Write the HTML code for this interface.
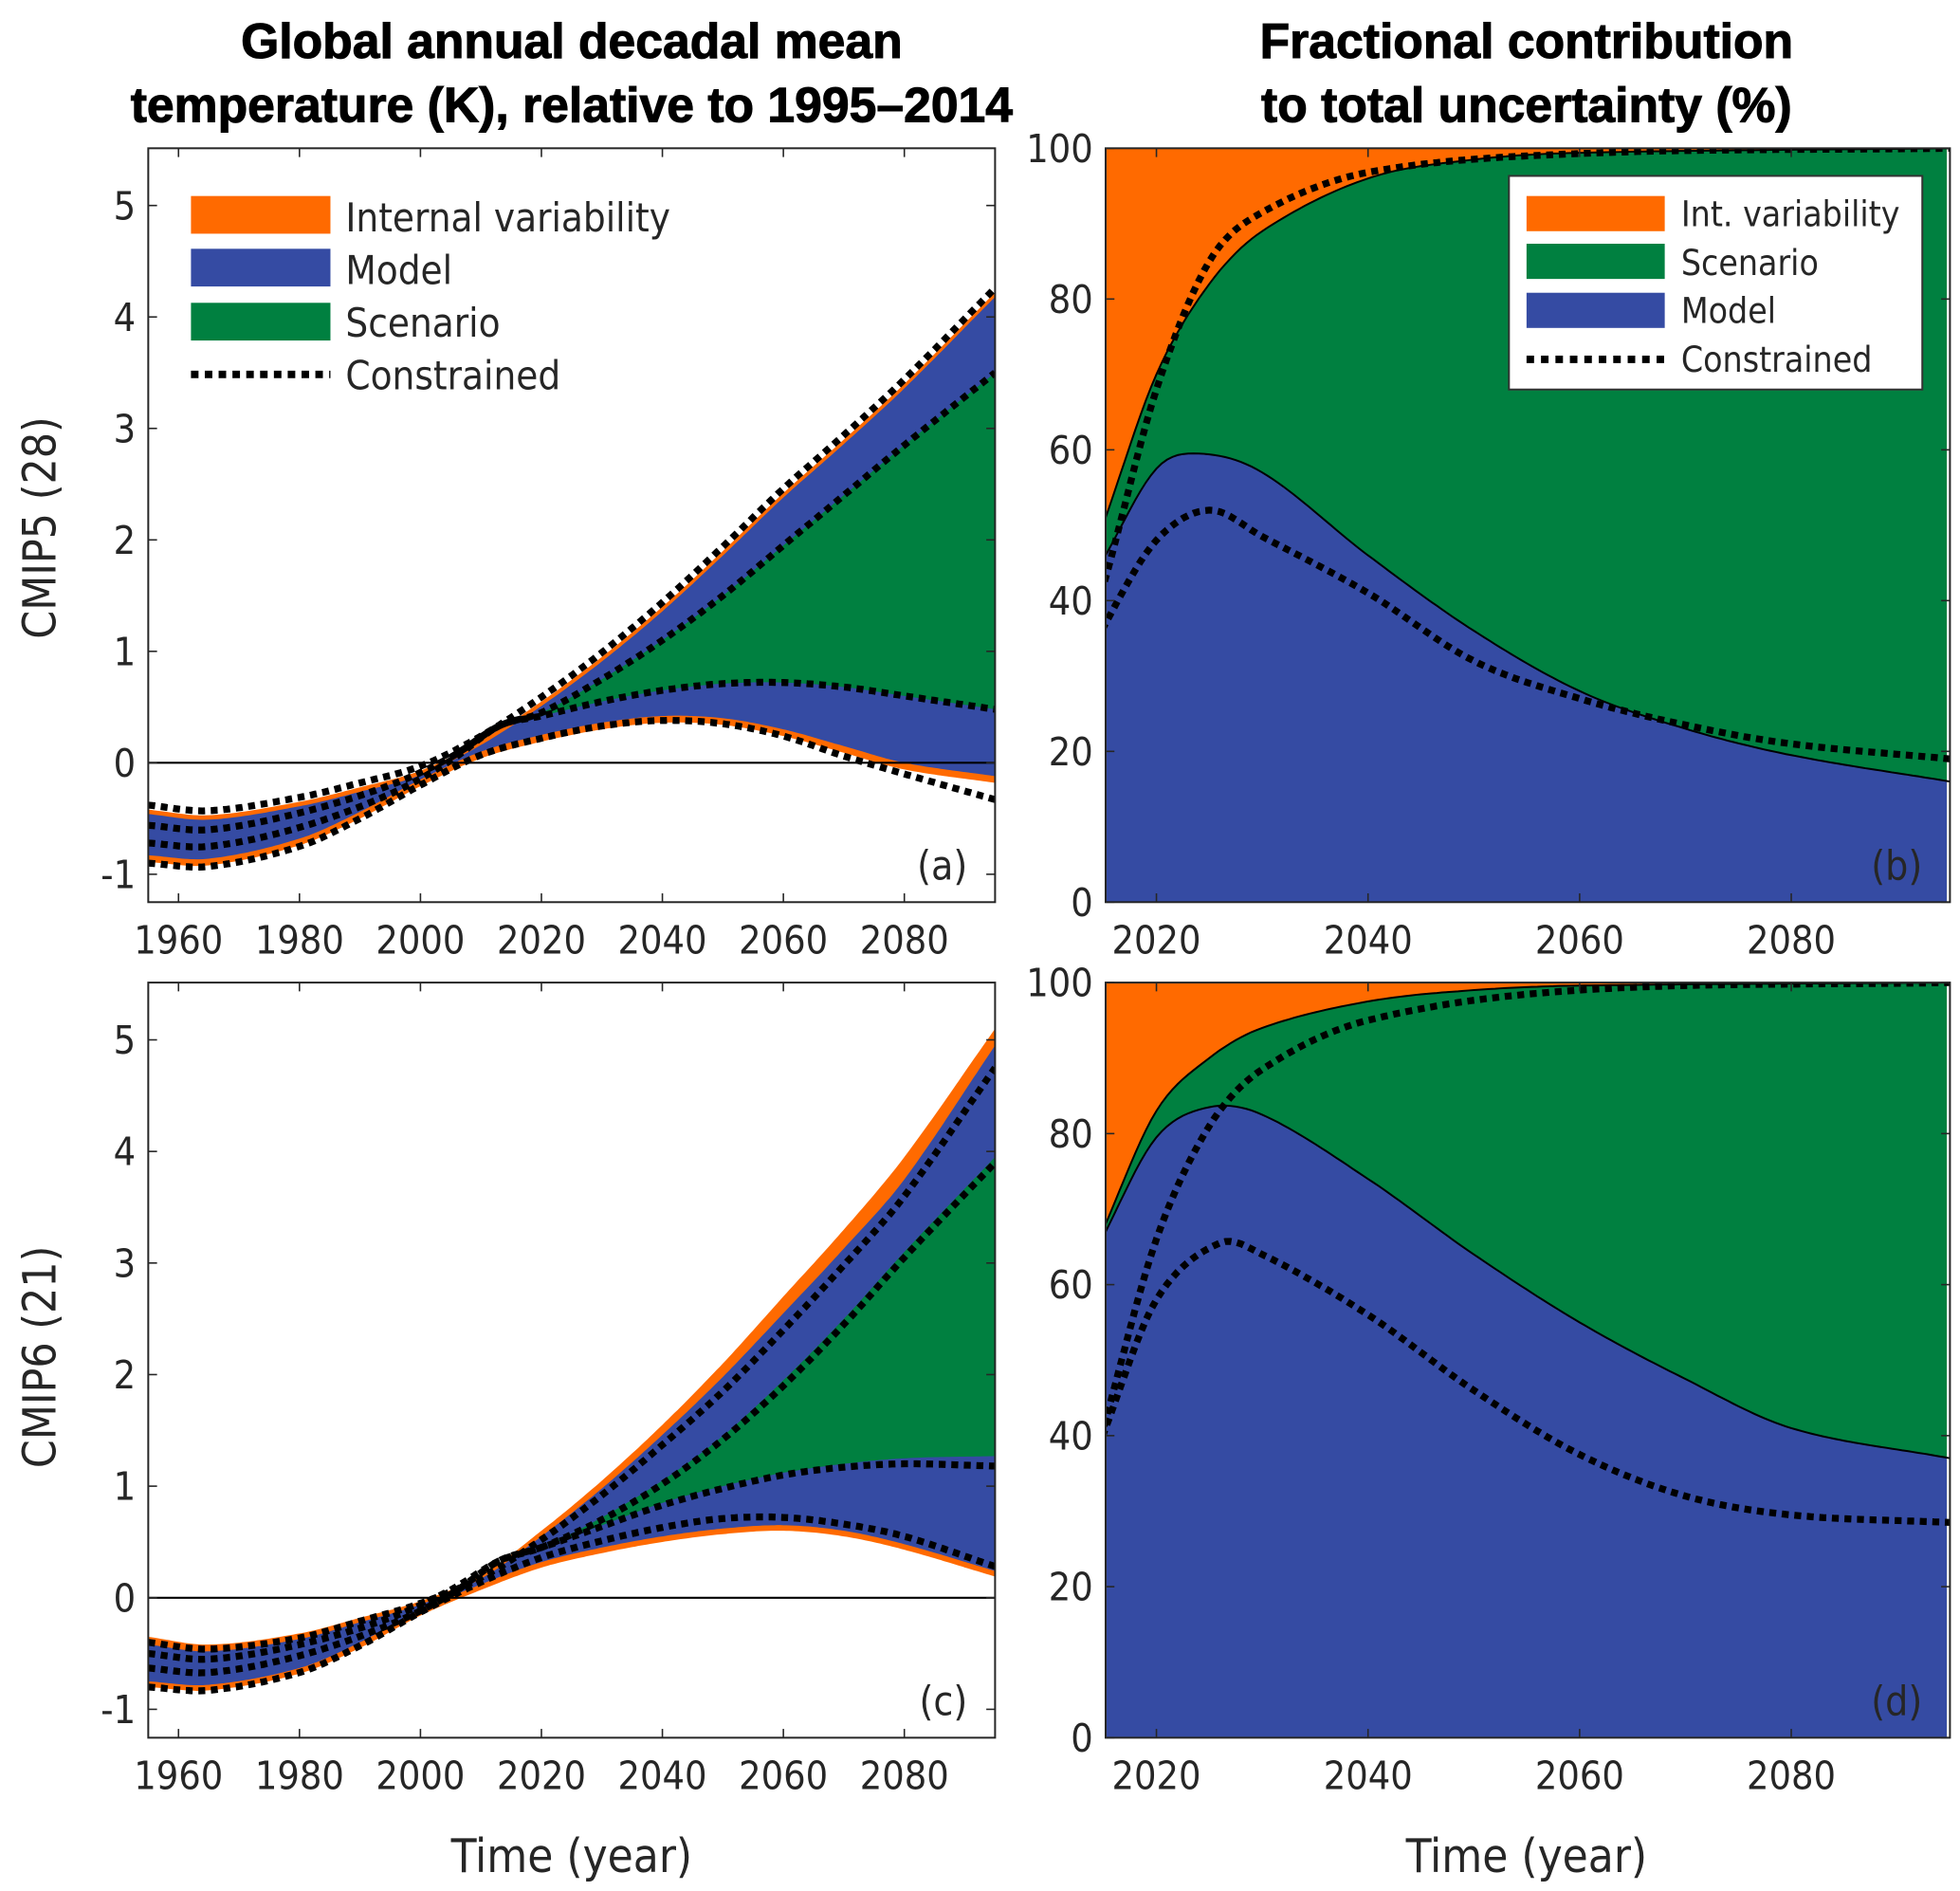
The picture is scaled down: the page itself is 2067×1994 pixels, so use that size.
<!DOCTYPE html>
<html><head><meta charset="utf-8"><style>
html,body{margin:0;padding:0;background:#fff}
svg{display:block}
text{font-family:"DejaVu Sans Condensed","Liberation Sans",sans-serif;fill:#262626}
.t{font-weight:900;fill:#000;font-family:"Liberation Sans",sans-serif;stroke:#000;stroke-width:0.8}
</style></head><body>
<svg id="s" width="2067" height="1994" viewBox="0 0 1560 1505" preserveAspectRatio="none" xmlns="http://www.w3.org/2000/svg">
<defs>
<clipPath id="ca"><rect x="118" y="118" width="674" height="600"/></clipPath>
<clipPath id="cc"><rect x="118" y="782" width="674" height="601"/></clipPath>
<clipPath id="cb"><rect x="880" y="118" width="672" height="600"/></clipPath>
<clipPath id="cd"><rect x="880" y="782" width="672" height="601"/></clipPath>
</defs>
<text class="t" x="455" y="46" font-size="39" text-anchor="middle">Global annual decadal mean</text>
<text class="t" x="455" y="97" font-size="39" text-anchor="middle">temperature (K), relative to 1995–2014</text>
<text class="t" x="1215" y="46" font-size="39" text-anchor="middle">Fractional contribution</text>
<text class="t" x="1215" y="97" font-size="39" text-anchor="middle">to total uncertainty (%)</text>
<text x="44" y="420" font-size="36" text-anchor="middle" transform="rotate(-90 44 420)">CMIP5 (28)</text>
<text x="44" y="1080" font-size="36" text-anchor="middle" transform="rotate(-90 44 1080)">CMIP6 (21)</text>
<text x="455" y="1490" font-size="37" text-anchor="middle">Time (year)</text>
<text x="1215" y="1490" font-size="37" text-anchor="middle">Time (year)</text>
<g id="g"></g>
</svg>
<script>
const NS="http://www.w3.org/2000/svg";const G=document.getElementById('g');
function el(t,a,p){const e=document.createElementNS(NS,t);for(const k in a)e.setAttribute(k,a[k]);(p||G).appendChild(e);return e;}
function interp(pts,x){
 let i=0;while(i<pts.length-2&&x>pts[i+1][0])i++;
 const p1=pts[i],p2=pts[i+1],p0=pts[i-1]||p1,p3=pts[i+2]||p2;
 const t=(x-p1[0])/(p2[0]-p1[0]);const h=p2[0]-p1[0];
 const m1=(p2[1]-p0[1])/(p2[0]-p0[0]||1)*h, m2=(p3[1]-p1[1])/(p3[0]-p1[0]||1)*h;
 const t2=t*t,t3=t2*t;
 return (2*t3-3*t2+1)*p1[1]+(t3-2*t2+t)*m1+(-2*t3+3*t2)*p2[1]+(t3-t2)*m2;}
function samp(pts,x0,x1){const r=[];for(let x=x0;x<=x1+1e-9;x+=0.5)r.push([x,interp(pts,x)]);return r;}
function add(pts,d){return pts.map(p=>[p[0],p[1]+d]);}
function panel(P){
 const X=y=>P.x0+(y-P.a0)*(P.x1-P.x0)/(P.a1-P.a0), Y=v=>P.y1-(v-P.b0)*(P.y1-P.y0)/(P.b1-P.b0);
 const g=el('g',{'clip-path':'url(#'+P.clip+')'});
 const path=a=>a.map((p,i)=>(i?'L':'M')+X(p[0]).toFixed(1)+' '+Y(p[1]).toFixed(1)).join('');
 P.fills.forEach(f=>{const top=samp(f[0],f[2],P.a1),bot=samp(f[1],f[2],P.a1).reverse();
  el('path',{d:path(top)+path(bot).replace('M','L')+'Z',fill:f[3]},g);});
 (P.lines||[]).forEach(l=>el('path',{d:path(samp(l,l[0][0],P.a1)),fill:'none',stroke:'#000','stroke-width':1.5},g));
 if(P.zero)el('line',{x1:P.x0,x2:P.x1,y1:Y(0),y2:Y(0),stroke:'#000','stroke-width':1.6},g);
 P.dots.forEach(l=>el('path',{d:path(samp(l,l[0][0],P.a1)),fill:'none',stroke:'#000','stroke-width':5.5,'stroke-dasharray':'5.5 4.5'},g));
 el('rect',{x:P.x0,y:P.y0,width:P.x1-P.x0,height:P.y1-P.y0,fill:'none',stroke:'#262626','stroke-width':1.5});
 P.xt.forEach(v=>{const x=X(v);el('line',{x1:x,x2:x,y1:P.y1,y2:P.y1-7,stroke:'#262626','stroke-width':1.2});el('line',{x1:x,x2:x,y1:P.y0,y2:P.y0+7,stroke:'#262626','stroke-width':1.2});
  const t=el('text',{x:x,y:P.y1+41,'font-size':31,'text-anchor':'middle'});t.textContent=v;});
 P.yt.forEach(v=>{const y=Y(v);el('line',{x1:P.x0,x2:P.x0+7,y1:y,y2:y,stroke:'#262626','stroke-width':1.2});el('line',{x1:P.x1,x2:P.x1-7,y1:y,y2:y,stroke:'#262626','stroke-width':1.2});
  const t=el('text',{x:P.x0-10,y:y+11,'font-size':31,'text-anchor':'end'});t.textContent=v;});
 const t=el('text',{x:P.x1-22,y:P.y1-18,'font-size':32,'text-anchor':'end',fill:'#000'});t.textContent=P.lab;
}
const OR='#FF6A00',BL='#354BA3',GR='#008040';
let oTa=[[1955,-0.42],[1965,-0.47],[1980,-0.35],[1990,-0.22],[2000,-0.07],[2010,0.2],[2020,0.55],[2030,0.95],[2040,1.4],[2050,1.9],[2060,2.42],[2070,2.9],[2080,3.4],[2095,4.22]];
let bBa=[[1955,-0.83],[1965,-0.86],[1980,-0.68],[1990,-0.44],[2000,-0.15],[2010,0.1],[2020,0.25],[2030,0.36],[2040,0.42],[2050,0.4],[2060,0.3],[2070,0.15],[2080,0],[2095,-0.12]];
let gTa=[[2013,0.33],[2020,0.45],[2030,0.75],[2040,1.1],[2050,1.5],[2060,1.95],[2070,2.4],[2080,2.85],[2095,3.5]];
let gBa=[[2013,0.33],[2020,0.42],[2030,0.55],[2040,0.65],[2050,0.71],[2060,0.72],[2070,0.68],[2080,0.6],[2095,0.48]];
panel({x0:118,x1:792,y0:118,y1:718,a0:1955,a1:2095,b0:-1.2502,b1:5.5135,clip:'ca',zero:1,lab:'(a)',
 xt:[1960,1980,2000,2020,2040,2060,2080],yt:[-1,0,1,2,3,4,5],
 fills:[[oTa,add(bBa,-0.06),1955,OR],[add(oTa,-0.04),bBa,1955,BL],[gTa,gBa,2013,GR]],
 dots:[add(oTa,0.04),[[1955,-0.56],[1965,-0.6],[1980,-0.45],[1995,-0.2],[2005,0.05],[2013,0.33],...gTa.slice(1)],
  [[1955,-0.72],[1965,-0.75],[1980,-0.58],[1995,-0.28],[2005,0.02],[2013,0.33],...gBa.slice(1)],
  [[1955,-0.9],[1965,-0.93],[1980,-0.75],[1990,-0.5],[2000,-0.2],[2010,0.07],[2020,0.22],[2030,0.33],[2040,0.38],[2050,0.35],[2060,0.24],[2070,0.06],[2080,-0.1],[2095,-0.33]]]});
let oTc=[[1955,-0.35],[1965,-0.42],[1980,-0.32],[1990,-0.18],[2000,-0.03],[2010,0.2],[2020,0.6],[2030,1.05],[2040,1.55],[2050,2.1],[2060,2.7],[2070,3.3],[2080,3.95],[2095,5.1]];
let bTc=[[1955,-0.42],[1965,-0.48],[1980,-0.37],[1990,-0.22],[2000,-0.06],[2010,0.17],[2020,0.55],[2030,0.98],[2040,1.46],[2050,1.98],[2060,2.55],[2070,3.13],[2080,3.75],[2095,4.95]];
let bBc=[[1955,-0.75],[1965,-0.78],[1980,-0.63],[1990,-0.4],[2000,-0.11],[2010,0.12],[2020,0.32],[2030,0.45],[2040,0.55],[2050,0.62],[2060,0.65],[2070,0.6],[2080,0.48],[2095,0.24]];
let gTc=[[2013,0.33],[2020,0.45],[2030,0.72],[2040,1.05],[2050,1.45],[2060,1.95],[2070,2.5],[2080,3.1],[2095,3.95]];
let gBc=[[2013,0.33],[2020,0.45],[2030,0.65],[2040,0.85],[2050,1.0],[2060,1.12],[2070,1.2],[2080,1.25],[2095,1.27]];
panel({x0:118,x1:792,y0:782,y1:1383,a0:1955,a1:2095,b0:-1.2545,b1:5.5135,clip:'cc',zero:1,lab:'(c)',
 xt:[1960,1980,2000,2020,2040,2060,2080],yt:[-1,0,1,2,3,4,5],
 fills:[[oTc,add(bBc,-0.05),1955,OR],[bTc,bBc,1955,BL],[gTc,gBc,2013,GR]],
 dots:[[[1955,-0.4],[1965,-0.46],[1980,-0.36],[1990,-0.21],[2000,-0.05],[2010,0.18],[2020,0.52],[2030,0.92],[2040,1.37],[2050,1.85],[2060,2.4],[2070,2.98],[2080,3.6],[2095,4.75]],
  [[1955,-0.5],[1965,-0.55],[1980,-0.42],[1995,-0.18],[2005,0.07],[2013,0.33],[2020,0.45],[2030,0.7],[2040,1.02],[2050,1.42],[2060,1.9],[2070,2.45],[2080,3.05],[2095,3.9]],
  [[1955,-0.63],[1965,-0.67],[1980,-0.52],[1995,-0.24],[2005,0.03],[2013,0.33],[2020,0.45],[2030,0.64],[2040,0.83],[2050,0.98],[2060,1.1],[2070,1.17],[2080,1.2],[2095,1.18]],
  [[1955,-0.8],[1965,-0.83],[1980,-0.67],[1990,-0.43],[2000,-0.13],[2010,0.14],[2020,0.36],[2030,0.51],[2040,0.63],[2050,0.71],[2060,0.72],[2070,0.66],[2080,0.55],[2095,0.28]]]});
panel({x0:880,x1:1552,y0:118,y1:718,a0:2015.2,a1:2095,b0:0,b1:100,clip:'cb',lab:'(b)',
 xt:[2020,2040,2060,2080],yt:[0,20,40,60,80,100],
 fills:[[[[2010,100],[2095,100]],[[2010,0],[2095,0]],2015.2,OR],
  [[[2013,42],[2015.2,51],[2020,70],[2025,82],[2030,89],[2040,96],[2050,98.5],[2060,99.4],[2095,100]],[[2010,0],[2095,0]],2015.2,GR],
  [[[2013,40],[2015.2,46],[2020,57.5],[2024,59.5],[2030,57],[2040,46],[2050,36],[2060,28],[2070,23],[2080,19.5],[2095,16]],[[2010,0],[2095,0]],2015.2,BL]],
 lines:[[[2013,42],[2015.2,51],[2020,70],[2025,82],[2030,89],[2040,96],[2050,98.5],[2060,99.4],[2095,100]],
  [[2013,40],[2015.2,46],[2020,57.5],[2024,59.5],[2030,57],[2040,46],[2050,36],[2060,28],[2070,23],[2080,19.5],[2095,16]]],
 dots:[[[2013,33],[2015.2,43],[2020,68],[2025,85],[2030,91.5],[2040,96.8],[2060,99.3],[2095,100]],
  [[2013,30],[2015.2,37],[2020,48],[2025,52],[2030,48.5],[2040,41],[2050,32],[2060,27],[2070,23.5],[2080,21],[2095,19]]]});
panel({x0:880,x1:1552,y0:782,y1:1383,a0:2015.2,a1:2095,b0:0,b1:100,clip:'cd',lab:'(d)',
 xt:[2020,2040,2060,2080],yt:[0,20,40,60,80,100],
 fills:[[[[2010,100],[2095,100]],[[2010,0],[2095,0]],2015.2,OR],
  [[[2013,60],[2015.2,68],[2020,83],[2025,90],[2030,94],[2040,97.5],[2050,99],[2060,99.6],[2095,100]],[[2010,0],[2095,0]],2015.2,GR],
  [[[2013,60],[2015.2,67],[2020,79.5],[2025,83.5],[2030,82.5],[2040,74],[2050,64],[2060,55],[2070,47.5],[2080,41],[2095,37]],[[2010,0],[2095,0]],2015.2,BL]],
 lines:[[[2013,60],[2015.2,68],[2020,83],[2025,90],[2030,94],[2040,97.5],[2050,99],[2060,99.6],[2095,100]],
  [[2013,60],[2015.2,67],[2020,79.5],[2025,83.5],[2030,82.5],[2040,74],[2050,64],[2060,55],[2070,47.5],[2080,41],[2095,37]]],
 dots:[[[2013,30],[2015.2,42],[2020,66],[2025,81],[2030,88.5],[2040,95],[2060,99],[2095,100]],
  [[2013,32],[2015.2,41],[2020,58],[2026,65.5],[2030,64],[2040,56],[2050,46],[2060,37.5],[2070,32],[2080,29.5],[2095,28.5]]]});
[[OR,171],[BL,213],[GR,256]].forEach(r=>el('rect',{x:152,y:r[1]-15,width:111,height:30,fill:r[0]}));
el('line',{x1:152,x2:263,y1:298,y2:298,stroke:'#000','stroke-width':6,'stroke-dasharray':'6 5'});
[['Internal variability',173],['Model',215],['Scenario',257],['Constrained',299]].forEach(r=>{const t=el('text',{x:275,y:r[1]+11,'font-size':31.5,fill:'#000'});t.textContent=r[0];});
el('rect',{x:1201,y:140,width:329,height:170,fill:'#fff',stroke:'#333','stroke-width':1.5});
[[OR,170],[GR,208],[BL,247]].forEach(r=>el('rect',{x:1215,y:r[1]-14,width:110,height:28,fill:r[0]}));
el('line',{x1:1215,x2:1325,y1:286,y2:286,stroke:'#000','stroke-width':6,'stroke-dasharray':'6 5.5'});
[['Int. variability',170],['Scenario',209],['Model',247],['Constrained',286]].forEach(r=>{const t=el('text',{x:1338,y:r[1]+10,'font-size':28,fill:'#000'});t.textContent=r[0];});
</script>
</body></html>
